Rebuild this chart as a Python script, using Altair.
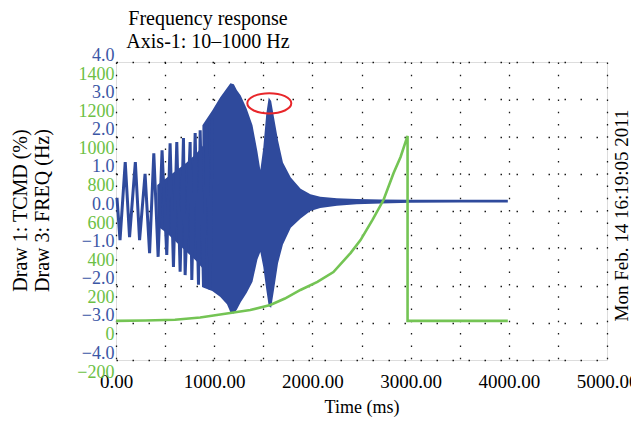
import altair as alt
import pandas as pd

# ---- data ----
# Blue (Draw 1: TCMD %) early, individually visible cycles: alternating peaks / troughs
cyc_t = [10, 41, 94, 138, 197, 240, 296, 342, 385, 429, 469, 517, 551, 585, 619, 653,
         687, 704, 755, 772, 806, 840, 857, 891, 925, 959, 980]
cyc_v = [0.35, -0.78, 1.31, -0.70, 1.31, -0.78, 1.00, -1.13, 1.55, -1.23, 1.63, -1.18,
         1.82, -1.50, 1.85, -1.63, 1.96, -1.72, 1.85, -1.85, 2.09, -1.98, 2.17, -2.04,
         2.36, -2.12, 2.49]

# Blue, filled core of the dense cycles (between the spikes)
core_t = [420, 520, 620, 720, 820, 900]
core_hi = [0.70, 0.90, 1.10, 1.30, 1.55, 1.80]
core_lo = [-0.40, -0.60, -0.85, -1.10, -1.35, -1.60]

# Blue dense part: upper / lower envelope
env_t = [880, 980, 1060, 1130, 1165, 1200, 1230, 1270, 1330, 1390, 1440, 1470, 1500, 1530,
         1555, 1580, 1610, 1650, 1700, 1780, 1880, 1980, 2080, 2250, 2450, 2700, 3000, 3500, 3990]
env_hi = [2.30, 2.70, 3.05, 3.30, 3.43, 3.40, 3.25, 3.10, 2.75, 2.30, 1.60, 1.10, 1.70, 2.60,
          3.05, 2.95, 2.50, 1.90, 1.30, 0.90, 0.60, 0.45, 0.38, 0.34, 0.32, 0.31, 0.30, 0.30, 0.30]
env_lo = [-2.05, -2.15, -2.30, -2.50, -2.72, -2.75, -2.65, -2.45, -2.20, -1.90, -1.30, -1.10,
          -1.50, -2.10, -2.55, -2.60, -2.10, -1.40, -0.90, -0.45, -0.20, 0.00, 0.08, 0.14,
          0.18, 0.20, 0.22, 0.23, 0.23]

# Green (Draw 3: FREQ Hz)
green_t = [0, 300, 600, 857, 1163, 1367, 1571, 1720, 1878, 2051, 2214, 2388, 2490, 2612,
           2724, 2827, 2898, 2969, 2969, 3990]
green_v = [10, 12, 16, 28, 52, 68, 95, 130, 176, 219, 272, 374, 444, 552,
           659, 804, 890, 1003, 10, 10]

# Red annotation ellipse (centre)
mark_t = [1561]
mark_v = [2.89]

x_ticks = [0, 500, 1000, 1500, 2000, 2500, 3000, 3500, 4000, 4500, 5000]
blue_ticks = [-4, -3, -2, -1, 0, 1, 2, 3, 4]
green_ticks = [-200, 0, 200, 400, 600, 800, 1000, 1200, 1400]

SERIF = "Liberation Serif"
BLUE = "#2f4a9c"
BLUE_LBL = "#3b56a5"
GREEN = "#74c454"
GREEN_LBL = "#6cbf45"

cyc_df = pd.DataFrame({"t": cyc_t, "v": cyc_v, "i": range(len(cyc_t))})
core_df = pd.DataFrame({"t": core_t, "hi": core_hi, "lo": core_lo})
env_df = pd.DataFrame({"t": env_t, "hi": env_hi, "lo": env_lo})
green_df = pd.DataFrame({"t": green_t, "v": green_v, "i": range(len(green_t))})
mark_df = pd.DataFrame({"t": mark_t, "v": mark_v})

xscale = alt.Scale(domain=[0, 5000], nice=False, zero=False)
blue_scale = alt.Scale(domain=[-4, 4], nice=False, zero=False)
green_scale = alt.Scale(domain=[-200, 1400], nice=False, zero=False)
date_scale = alt.Scale(domain=[-4, 4], nice=False, zero=False)

x_axis = alt.Axis(
    orient="bottom", values=x_ticks,
    labelExpr="datum.value % 1000 == 0 ? format(datum.value, '.2f') : ''",
    ticks=False, domain=False, grid=True,
    gridColor="black", gridDash=[1.5, 10.8], gridWidth=1.3, gridOpacity=0.9,
    labelFont=SERIF, labelFontSize=19, labelColor="black", labelPadding=12,
    labelFlush=False, labelOverlap=False,
    title="Time (ms)", titleFont=SERIF, titleFontSize=18, titleFontWeight="normal",
    titleColor="black", titlePadding=7,
)

blue_axis = alt.Axis(
    orient="left", values=blue_ticks, format=".1f",
    ticks=False, domain=False, grid=True,
    gridColor="black", gridDash=[1.5, 14.5], gridWidth=1.3, gridOpacity=0.9,
    labelFont=SERIF, labelFontSize=18, labelColor=BLUE_LBL,
    labelBaseline="alphabetic", labelOffset=-2, labelPadding=2,
    labelFlush=False, labelOverlap=False,
    title=["Draw 1: TCMD (%)", "Draw 3: FREQ (Hz)"],
    titleFont=SERIF, titleFontSize=20, titleFontWeight="normal", titleColor="black",
    titleAngle=270, titleAlign="center", titleBaseline="top", titleLineHeight=22,
    titleX=-106, titleY=148,
)

green_axis = alt.Axis(
    orient="left", values=green_ticks, format="d",
    ticks=False, domain=False, grid=False,
    labelFont=SERIF, labelFontSize=18, labelColor=GREEN_LBL,
    labelBaseline="top", labelOffset=3, labelPadding=2,
    labelFlush=False, labelOverlap=False, title=None,
)

date_axis = alt.Axis(
    orient="right", labels=False, ticks=False, domain=False, grid=False,
    title="Mon Feb. 14 16:19:05 2011",
    titleFont=SERIF, titleFontSize=19, titleFontWeight="normal", titleColor="black",
    titleAngle=270, titleAlign="center", titleBaseline="top",
    titleX=5, titleY=153,
)

X = alt.X("t:Q", scale=xscale, axis=x_axis)

area = alt.Chart(env_df).mark_area(color=BLUE, opacity=1).encode(
    x=X,
    y=alt.Y("hi:Q", scale=blue_scale, axis=blue_axis),
    y2="lo:Q",
)

core = alt.Chart(core_df).mark_area(color=BLUE, opacity=1).encode(
    x=X,
    y=alt.Y("hi:Q", scale=blue_scale, axis=blue_axis),
    y2="lo:Q",
)

zig = alt.Chart(cyc_df).mark_line(color=BLUE, strokeWidth=3, strokeJoin="miter").encode(
    x=X,
    y=alt.Y("v:Q", scale=blue_scale, axis=blue_axis),
    order="i:Q",
)

blue = alt.layer(area, core, zig)

green = alt.Chart(green_df).mark_line(color=GREEN, strokeWidth=2.6).encode(
    x=X,
    y=alt.Y("v:Q", scale=green_scale, axis=green_axis),
    order="i:Q",
)

ellipse = alt.Chart(mark_df).mark_point(
    shape="M-1,0A1,0.46,0,1,1,1,0A1,0.46,0,1,1,-1,0Z",
    size=1936, filled=False, stroke="#e8262a", strokeWidth=2, opacity=1,
).encode(
    x=X,
    y=alt.Y("v:Q", scale=date_scale, axis=date_axis),
)

chart = alt.layer(blue, green, ellipse).resolve_scale(y="independent").properties(
    width=491, height=298,
    autosize=alt.AutoSizeParams(type="none"),
    padding={"left": 108, "top": 54, "right": 24, "bottom": 58},
    title=alt.TitleParams(
        text=["Frequency response", "Axis-1: 10\u20131000 Hz"],
        anchor="start", align="center", dx=92, dy=38, frame="group",
        baseline="bottom", offset=12, lineHeight=23,
        font=SERIF, fontSize=20, fontWeight="normal", color="black",
    ),
).configure_view(stroke="#222222", strokeWidth=2).configure(background="white")

chart.save("out.html", embed_options={"renderer": "svg", "actions": False})
